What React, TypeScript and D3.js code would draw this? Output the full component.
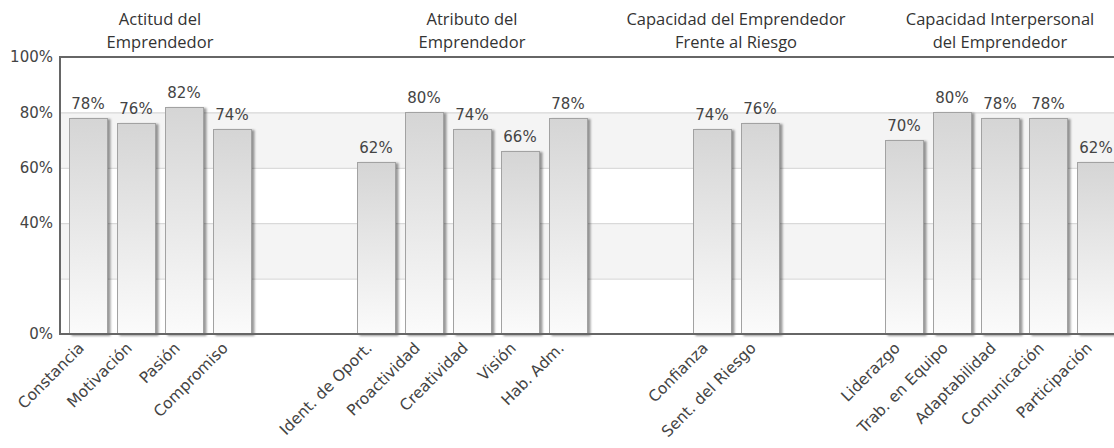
import React, { useEffect, useRef } from "react";
import * as d3 from "d3";

// group titles (two lines each), categories and values in %
const groupTitles: string[][] = [
    ["Actitud del", "Emprendedor"],
    ["Atributo del", "Emprendedor"],
    ["Capacidad del Emprendedor", "Frente al Riesgo"],
    ["Capacidad Interpersonal", "del Emprendedor"],
];
const groupCategories: string[][] = [
    ["Constancia", "Motivación", "Pasión", "Compromiso"],
    ["Ident. de Oport.", "Proactividad", "Creatividad", "Visión", "Hab. Adm."],
    ["Confianza", "Sent. del Riesgo"],
    ["Liderazgo", "Trab. en Equipo", "Adaptabilidad", "Comunicación", "Participación"],
];
const groupValues: number[][] = [
    [78, 76, 82, 74],
    [62, 80, 74, 66, 78],
    [74, 76],
    [70, 80, 78, 78, 62],
];
const gridTicks = [0, 20, 40, 60, 80, 100];
const labelTicks = [0, 40, 60, 80, 100];

const App: React.FC = () => {
    const svgRef = useRef<SVGSVGElement | null>(null);

    useEffect(() => {
        if (!svgRef.current) return;
        document.body.style.margin = "0";

        const width = 1114;
        const height = 448;
        const left = 60, top = 57, bottom = 334;

        const svg = d3.select(svgRef.current)
            .attr("width", width)
            .attr("height", height);
        svg.selectAll("*").remove();

        // slots: categories with two empty slots between groups
        const slots: string[] = [];
        groupCategories.forEach((cats, i) => {
            if (i > 0) slots.push(`gap${i}a`, `gap${i}b`);
            cats.forEach(c => slots.push(c));
        });

        const x = d3.scaleBand<string>()
            .domain(slots)
            .range([64, 1120])
            .paddingInner(0.2)
            .paddingOuter(0.1);

        const y = d3.scaleLinear().domain([0, 100]).range([bottom, top]);

        const defs = svg.append("defs");
        const grad = defs.append("linearGradient")
            .attr("id", "barGrad")
            .attr("x1", 0).attr("y1", 0).attr("x2", 0).attr("y2", 1);
        grad.append("stop").attr("offset", "0%").attr("stop-color", "#d5d5d5");
        grad.append("stop").attr("offset", "100%").attr("stop-color", "#fbfbfb");

        const shadow = defs.append("filter")
            .attr("id", "barShadow")
            .attr("x", "-20%").attr("y", "-5%")
            .attr("width", "150%").attr("height", "115%");
        shadow.append("feDropShadow")
            .attr("dx", 2.5).attr("dy", 1)
            .attr("stdDeviation", 1.2)
            .attr("flood-color", "#000")
            .attr("flood-opacity", 0.4);

        // alternating bands
        const bands = d3.pairs(gridTicks).filter((_, i) => i % 2 === 1);
        svg.append("g")
            .selectAll("rect")
            .data(bands)
            .enter()
            .append("rect")
            .attr("x", left)
            .attr("width", width - left)
            .attr("y", d => y(d[1]))
            .attr("height", d => y(d[0]) - y(d[1]))
            .attr("fill", "#f4f4f4");

        svg.append("g")
            .selectAll("line")
            .data(gridTicks.slice(1, -1))
            .enter()
            .append("line")
            .attr("x1", left).attr("x2", width)
            .attr("y1", d => y(d) + 0.5).attr("y2", d => y(d) + 0.5)
            .attr("stroke", "#d2d2d2");

        // bars
        const data = groupCategories.flatMap((cats, i) =>
            cats.map((c, j) => ({ name: c, value: groupValues[i][j] })));

        svg.append("g")
            .selectAll("rect")
            .data(data)
            .enter()
            .append("rect")
            .attr("x", d => Math.round(x(d.name)!) + 0.5)
            .attr("y", d => Math.round(y(d.value)) + 0.5)
            .attr("width", Math.round(x.bandwidth()))
            .attr("height", d => Math.round(y(0)) - Math.round(y(d.value)))
            .attr("fill", "url(#barGrad)")
            .attr("stroke", "#a2a2a2")
            .attr("filter", "url(#barShadow)");

        svg.append("g")
            .selectAll("text")
            .data(data)
            .enter()
            .append("text")
            .attr("x", d => x(d.name)! + x.bandwidth() / 2)
            .attr("y", d => y(d.value) - 9)
            .attr("text-anchor", "middle")
            .attr("fill", "#444")
            .style("font-family", "DejaVu Sans")
            .style("font-size", "15px")
            .text(d => d.value + "%");

        // frame
        svg.append("path")
            .attr("d", `M${width},${top}H${left}V${bottom}H${width}`)
            .attr("fill", "none")
            .attr("stroke", "#666")
            .attr("stroke-width", 2);

        // y labels
        svg.append("g")
            .selectAll("text")
            .data(labelTicks)
            .enter()
            .append("text")
            .attr("x", 53)
            .attr("y", d => y(d))
            .attr("dy", "0.35em")
            .attr("text-anchor", "end")
            .attr("fill", "#444")
            .style("font-family", "DejaVu Sans")
            .style("font-size", "15px")
            .text(d => d + "%");

        // x labels
        svg.append("g")
            .selectAll("text")
            .data(data)
            .enter()
            .append("text")
            .attr("transform", d => `translate(${x(d.name)! + x.bandwidth() / 2 - 3},${bottom + 15}) rotate(-45)`)
            .attr("text-anchor", "end")
            .attr("fill", "#444")
            .style("font-family", "DejaVu Sans")
            .style("font-size", "15.5px")
            .text(d => d.name);

        // group titles
        groupTitles.forEach((lines, i) => {
            const cats = groupCategories[i];
            const cx = (x(cats[0])! + x(cats[cats.length - 1])! + x.bandwidth()) / 2;
            svg.append("text")
                .attr("x", cx)
                .attr("text-anchor", "middle")
                .attr("fill", "#333")
                .style("font-family", "Open Sans")
                .style("font-size", "16.5px")
                .selectAll("tspan")
                .data(lines)
                .enter()
                .append("tspan")
                .attr("x", cx)
                .attr("y", (_, k) => 25 + k * 23)
                .text(d => d);
        });
    }, []);

    return <svg ref={svgRef} style={{ display: "block" }}></svg>;
};

export default App;
